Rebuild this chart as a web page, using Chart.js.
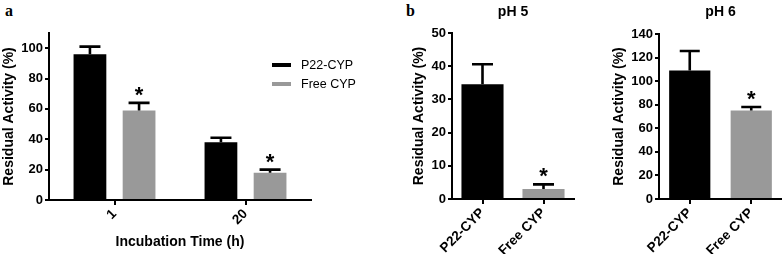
<!DOCTYPE html>
<html><head><meta charset="utf-8">
<script src="https://cdn.jsdelivr.net/npm/chart.js@4/dist/chart.umd.min.js"></script>
<style>
html,body{margin:0;padding:0;background:#fff;width:782px;height:254px;overflow:hidden;}
body{position:relative;}
canvas{position:absolute;top:0;}
.lab{position:absolute;font:bold 16px "Liberation Serif",serif;line-height:16px;color:#000;}
</style></head><body>
<div class="lab" style="left:5px;top:3px">a</div>
<div class="lab" style="left:406px;top:3px">b</div>
<canvas id="ca" width="370" height="254" style="left:0"></canvas>
<canvas id="cb" width="170" height="254" style="left:410px"></canvas>
<canvas id="cc" width="172" height="254" style="left:610px"></canvas>
<script>
// ---- data ----
const timeLabels = ['1', '20'];
const p22Values = [96, 38];
const p22Errors = [5, 3];
const freeValues = [59, 18];
const freeErrors = [5, 2];
const freeSig = [true, true];
const p22Sig = [false, false];

const phLabels = ['P22-CYP', 'Free CYP'];
const ph5Values = [34.6, 3.0];
const ph5Errors = [6.0, 1.4];
const ph5Sig = [false, true];
const ph6Values = [109, 75];
const ph6Errors = [16.6, 3];
const ph6Sig = [false, true];

const seriesNames = ['P22-CYP', 'Free CYP'];
const yTitle = 'Residual Activity (%)';
const xTitleA = 'Incubation Time (h)';

const BLACK = '#000000', GREY = '#999999';
const FONT = '"Liberation Sans", Arial, sans-serif';

// ---- plugins ----
const errorBarPlugin = {
  id: 'errbars',
  afterDatasetsDraw(chart) {
    const ctx = chart.ctx;
    const ys = chart.scales.y;
    const cfg = chart.options.plugins.errbars;
    chart.data.datasets.forEach((ds, di) => {
      const meta = chart.getDatasetMeta(di);
      meta.data.forEach((bar, i) => {
        const v = ds.data[i];
        const e = ds.errors[i];
        const yTop = ys.getPixelForValue(v + e);
        const yBar = ys.getPixelForValue(v);
        ctx.save();
        ctx.strokeStyle = '#000';
        ctx.lineWidth = 2.6;
        ctx.beginPath();
        ctx.moveTo(bar.x, yBar);
        ctx.lineTo(bar.x, yTop);
        ctx.moveTo(bar.x - cfg.cap / 2, yTop);
        ctx.lineTo(bar.x + cfg.cap / 2, yTop);
        ctx.stroke();
        if (ds.sig[i]) {
          ctx.fillStyle = '#000';
          ctx.font = 'bold 22px ' + FONT;
          ctx.textAlign = 'center';
          ctx.textBaseline = 'alphabetic';
          ctx.fillText('*', bar.x, yTop - 1);
        }
        ctx.restore();
      });
    });
  }
};

const panelTitlePlugin = {
  id: 'ptitle',
  afterDraw(chart) {
    const t = chart.options.plugins.ptitle;
    if (!t || !t.text) return;
    const ctx = chart.ctx;
    const a = chart.chartArea;
    ctx.save();
    ctx.fillStyle = '#000';
    ctx.font = 'bold 14px ' + FONT;
    ctx.textAlign = 'center';
    ctx.textBaseline = 'middle';
    ctx.fillText(t.text, (a.left + a.right) / 2, t.y);
    ctx.restore();
  }
};

const customLegendPlugin = {
  id: 'clegend',
  afterDraw(chart) {
    const l = chart.options.plugins.clegend;
    if (!l || !l.show) return;
    const ctx = chart.ctx;
    ctx.save();
    chart.data.datasets.forEach((ds, i) => {
      const y = l.y + i * l.gap;
      ctx.fillStyle = ds.backgroundColor;
      ctx.fillRect(l.x, y - 2, 19, 4);
      ctx.fillStyle = '#000';
      ctx.font = '12.5px ' + FONT;
      ctx.textAlign = 'left';
      ctx.textBaseline = 'middle';
      ctx.fillText(ds.label, l.x + 29, y + 0.5);
    });
    ctx.restore();
  }
};

function axisOpts(max, step, yW, xH, xTitle) {
  return {
    x: {
      offset: true,
      grid: { display: true, drawOnChartArea: false, drawTicks: true, tickLength: 5, offset: false, color: '#000', lineWidth: 2 },
      border: { display: true, color: '#000', width: 2 },
      ticks: { color: '#000', font: { family: FONT, size: 13.5, weight: 'bold' }, minRotation: 45, maxRotation: 45, autoSkip: false, padding: 1 },
      title: xTitle ? { display: true, text: xTitle, color: '#000', font: { family: FONT, size: 14, weight: 'bold', lineHeight: 1.2 }, padding: { top: 0, bottom: 3.6 } } : { display: false },
      afterFit(s) { s.height = xH; }
    },
    y: {
      min: 0, max: max,
      grid: { display: true, drawOnChartArea: false, drawTicks: true, tickLength: 4, color: '#000', lineWidth: 2 },
      border: { display: true, color: '#000', width: 2 },
      ticks: { stepSize: step, includeBounds: false, color: '#000', font: { family: FONT, size: 13, weight: 'bold' }, padding: 2 },
      title: { display: true, text: yTitle, color: '#000', font: { family: FONT, size: 14, weight: 'bold', lineHeight: 1 }, padding: { top: 2, bottom: 0 } },
      afterFit(s) { s.width = yW; }
    }
  };
}

const common = {
  type: 'bar',
  plugins: [errorBarPlugin, panelTitlePlugin, customLegendPlugin]
};

// Panel a
new Chart(document.getElementById('ca'), {
  ...common,
  data: {
    labels: timeLabels,
    datasets: [
      { label: seriesNames[0], data: p22Values, errors: p22Errors, sig: p22Sig, backgroundColor: BLACK, categoryPercentage: 0.75, barPercentage: 0.667 },
      { label: seriesNames[1], data: freeValues, errors: freeErrors, sig: freeSig, backgroundColor: GREY, categoryPercentage: 0.75, barPercentage: 0.667 }
    ]
  },
  options: {
    responsive: false, animation: false, devicePixelRatio: 1,
    layout: { padding: { top: 33, right: 59, left: 0, bottom: 0 } },
    scales: axisOpts(110, 20, 49, 54, xTitleA),
    plugins: { legend: { display: false }, tooltip: { enabled: false }, errbars: { cap: 21 }, clegend: { show: true, x: 272, y: 65, gap: 19 } }
  }
});

// Panel b pH 5
new Chart(document.getElementById('cb'), {
  ...common,
  data: {
    labels: phLabels,
    datasets: [
      { label: 'pH 5', data: ph5Values, errors: ph5Errors, sig: ph5Sig, backgroundColor: [BLACK, GREY], categoryPercentage: 1, barPercentage: 0.69 }
    ]
  },
  options: {
    responsive: false, animation: false, devicePixelRatio: 1,
    layout: { padding: { top: 33, right: 6, left: 0, bottom: 0 } },
    scales: axisOpts(50, 10, 42, 55, null),
    plugins: { legend: { display: false }, tooltip: { enabled: false }, errbars: { cap: 21 }, ptitle: { text: 'pH 5', y: 12 } }
  }
});

// Panel b pH 6
new Chart(document.getElementById('cc'), {
  ...common,
  data: {
    labels: phLabels,
    datasets: [
      { label: 'pH 6', data: ph6Values, errors: ph6Errors, sig: ph6Sig, backgroundColor: [BLACK, GREY], categoryPercentage: 1, barPercentage: 0.67 }
    ]
  },
  options: {
    responsive: false, animation: false, devicePixelRatio: 1,
    layout: { padding: { top: 34, right: 0, left: 0, bottom: 0 } },
    scales: axisOpts(140, 20, 49, 55, null),
    plugins: { legend: { display: false }, tooltip: { enabled: false }, errbars: { cap: 20 }, ptitle: { text: 'pH 6', y: 12 } }
  }
});
</script>
</body></html>
